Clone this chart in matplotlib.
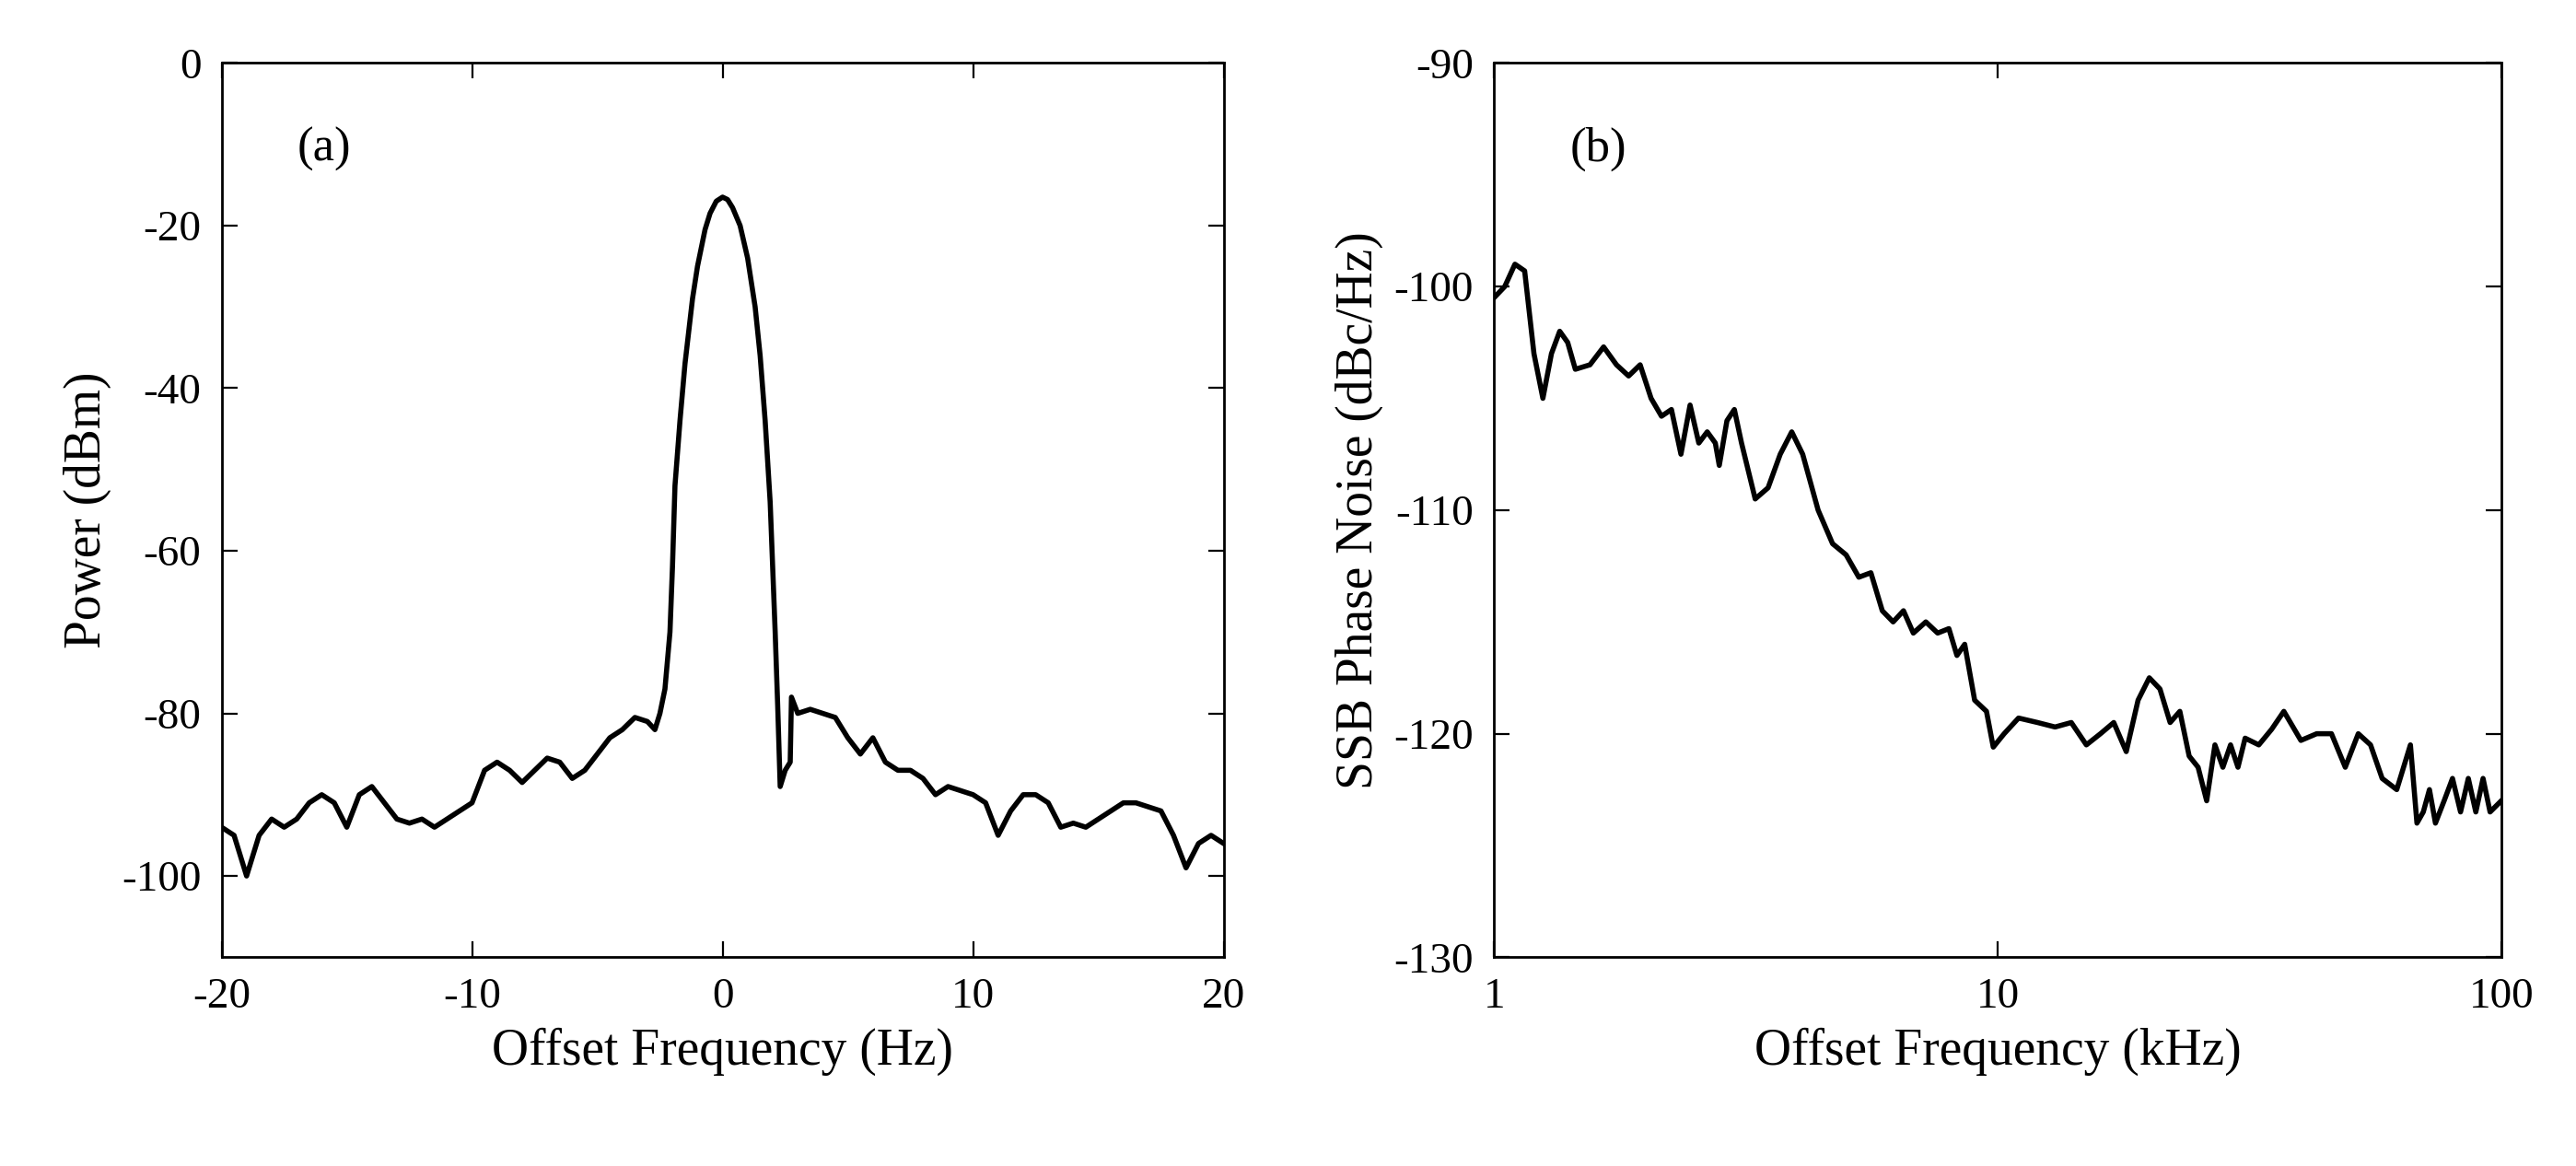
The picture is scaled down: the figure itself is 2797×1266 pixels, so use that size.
import numpy as np
import matplotlib.pyplot as plt
from matplotlib.ticker import NullLocator

plt.rcParams['font.family'] = ['Liberation Serif', 'DejaVu Serif']
plt.rcParams['axes.unicode_minus'] = False

# (a) beat note spectrum
freq_a = [-20, -19.5, -19, -18.5, -18, -17.5, -17, -16.5, -16, -15.5, -15, -14.5, -14, -13.5, -13,
          -12.5, -12, -11.5, -11, -10.5, -10, -9.5, -9, -8.5, -8, -7.5, -7, -6.5, -6, -5.5, -5,
          -4.5, -4, -3.5, -3, -2.7, -2.5, -2.3, -2.1, -2.0, -1.9, -1.7, -1.5, -1.2, -1.0, -0.7,
          -0.5, -0.25, 0, 0.2, 0.4, 0.7, 1.0, 1.3, 1.5, 1.7, 1.9, 2.0, 2.1, 2.2, 2.3, 2.5, 2.7,
          2.75, 3, 3.5, 4, 4.5, 5, 5.5, 6, 6.5, 7, 7.5, 8, 8.5,
          9, 9.5, 10, 10.5, 11, 11.5, 12, 12.5, 13, 13.5, 14, 14.5, 15, 15.5, 16, 16.5, 17,
          17.5, 18, 18.5, 19, 19.5, 20]
power_a = [-94, -95, -100, -95, -93, -94, -93, -91, -90, -91, -94, -90, -89, -91, -93,
           -93.5, -93, -94, -93, -92, -91, -87, -86, -87, -88.5, -87, -85.5, -86, -88, -87, -85,
           -83, -82, -80.5, -81, -82, -80, -77, -70, -62, -52, -44, -37, -29, -25, -20.5,
           -18.5, -17, -16.5, -16.8, -17.8, -20, -24, -30, -36, -44, -54, -62, -70, -79, -89,
           -87, -86, -78, -80, -79.5, -80, -80.5, -83, -85, -83, -86, -87,
           -87, -88, -90, -89, -89.5, -90, -91, -95, -92, -90, -90, -91, -94, -93.5, -94, -93,
           -92, -91, -91, -91.5, -92, -95, -99, -96, -95, -96]

# (b) SSB phase noise
freq_b = [1, 1.05, 1.1, 1.15, 1.2, 1.25, 1.3, 1.35, 1.4, 1.45, 1.55, 1.65, 1.75, 1.85, 1.95,
          2.05, 2.15, 2.25, 2.35, 2.45, 2.55, 2.65, 2.75, 2.8, 2.9, 3.0, 3.1, 3.3, 3.5, 3.7,
          3.9, 4.1, 4.4, 4.7, 5, 5.3, 5.6, 5.9, 6.2, 6.5, 6.8, 7.2, 7.6, 8, 8.3, 8.6, 9, 9.5,
          9.8, 10.3, 11, 12, 13, 14, 15, 16, 17, 18, 19, 20, 21, 22, 23, 24, 25, 26, 27, 28,
          29, 30, 31, 33, 35, 37, 40, 43, 46, 49, 52, 55, 58, 62, 66, 68, 70, 72, 74, 77, 80,
          83, 86, 89, 92, 95, 100]
noise_b = [-100.5, -100, -99, -99.3, -103, -105, -103, -102, -102.5, -103.7, -103.5, -102.7,
           -103.5, -104, -103.5, -105, -105.8, -105.5, -107.5, -105.3, -107, -106.5, -107, -108,
           -106, -105.5, -107, -109.5, -109, -107.5, -106.5, -107.5, -110, -111.5, -112, -113,
           -112.8, -114.5, -115, -114.5, -115.5, -115, -115.5, -115.3, -116.5, -116, -118.5,
           -119, -120.6, -120, -119.3, -119.5, -119.7, -119.5, -120.5, -120, -119.5, -120.8,
           -118.5, -117.5, -118, -119.5, -119, -121, -121.5, -123, -120.5, -121.5, -120.5,
           -121.5, -120.2, -120.5, -119.8, -119, -120.3, -120, -120, -121.5, -120, -120.5, -122,
           -122.5, -120.5, -124, -123.5, -122.5, -124, -123, -122, -123.5, -122, -123.5, -122,
           -123.5, -123]

fig = plt.figure(figsize=(13.985, 6.33), dpi=200)
ax1 = fig.add_axes([0.086, 0.179, 0.389, 0.767])
ax2 = fig.add_axes([0.580, 0.179, 0.391, 0.767])

ax1.plot(freq_a, power_a, color='black', lw=2)
ax1.set_xlim(-20, 20)
ax1.set_ylim(-110, 0)
ax1.set_xticks([-20, -10, 0, 10, 20])
ax1.set_yticks([-100, -80, -60, -40, -20, 0])
ax1.set_xlabel('Offset Frequency (Hz)', fontsize=20)
ax1.set_ylabel('Power (dBm)', fontsize=20)
ax1.text(0.075, 0.89, '(a)', transform=ax1.transAxes, fontsize=19)

ax2.plot(freq_b, noise_b, color='black', lw=2)
ax2.set_xscale('log')
ax2.set_xlim(1, 100)
ax2.set_ylim(-130, -90)
ax2.set_xticks([1, 10, 100])
ax2.set_xticklabels(['1', '10', '100'])
ax2.xaxis.set_minor_locator(NullLocator())
ax2.set_yticks([-130, -120, -110, -100, -90])
ax2.set_xlabel('Offset Frequency (kHz)', fontsize=20)
ax2.set_ylabel('SSB Phase Noise (dBc/Hz)', fontsize=20)
ax2.text(0.075, 0.89, '(b)', transform=ax2.transAxes, fontsize=19)

for ax in (ax1, ax2):
    ax.tick_params(direction='in', top=True, right=True, labelsize=17, length=6, pad=8)
    for s in ax.spines.values():
        s.set_linewidth(1)

fig.savefig('out.png', dpi=200)
